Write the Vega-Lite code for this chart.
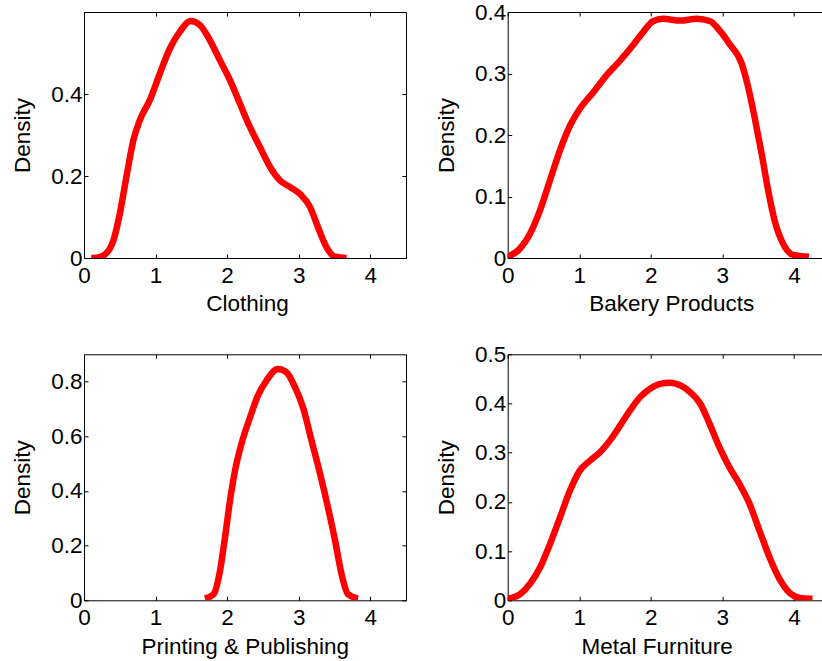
{
  "$schema": "https://vega.github.io/schema/vega-lite/v6.json",
  "background": "white",
  "padding": {"left": 11, "top": 0, "right": 0, "bottom": 0},
  "config": {
    "view": {"stroke": "black", "strokeWidth": 1},
    "font": "Liberation Sans",
    "axis": {
      "domain": false,
      "grid": false,
      "tickColor": "black",
      "tickSize": -4,
      "tickWidth": 1,
      "labelFont": "Liberation Sans",
      "labelFontSize": 22.5,
      "labelColor": "black",
      "labelFlush": false,
      "labelOverlap": false,
      "titleFont": "Liberation Sans",
      "titleFontSize": 22.5,
      "titleFontWeight": "normal",
      "titleColor": "black",
      "format": "~g"
    },
    "axisX": {"labelPadding": 10.4, "titlePadding": 6},
    "axisY": {"labelPadding": 6, "titlePadding": 16}
  },
  "datasets": {
    "clothing": [
      {"x": 0.10, "y": 0}, {"x": 0.14, "y": 0.0}, {"x": 0.27, "y": 0.006}, {"x": 0.41, "y": 0.042},
      {"x": 0.50, "y": 0.108}, {"x": 0.60, "y": 0.205}, {"x": 0.69, "y": 0.287}, {"x": 0.78, "y": 0.336},
      {"x": 0.92, "y": 0.385}, {"x": 1.06, "y": 0.45}, {"x": 1.20, "y": 0.511}, {"x": 1.34, "y": 0.552},
      {"x": 1.49, "y": 0.578}, {"x": 1.62, "y": 0.568}, {"x": 1.76, "y": 0.531}, {"x": 1.90, "y": 0.482},
      {"x": 2.04, "y": 0.434}, {"x": 2.18, "y": 0.376}, {"x": 2.32, "y": 0.319}, {"x": 2.46, "y": 0.27},
      {"x": 2.60, "y": 0.222}, {"x": 2.74, "y": 0.189}, {"x": 2.88, "y": 0.173}, {"x": 3.02, "y": 0.156},
      {"x": 3.16, "y": 0.124}, {"x": 3.27, "y": 0.075}, {"x": 3.39, "y": 0.026}, {"x": 3.51, "y": 0.003},
      {"x": 3.67, "y": 0.0}
    ],
    "bakery": [
      {"x": 0.0, "y": 0.002}, {"x": 0.17, "y": 0.015}, {"x": 0.31, "y": 0.039}, {"x": 0.45, "y": 0.077},
      {"x": 0.59, "y": 0.126}, {"x": 0.73, "y": 0.175}, {"x": 0.87, "y": 0.215}, {"x": 1.01, "y": 0.243},
      {"x": 1.20, "y": 0.27}, {"x": 1.38, "y": 0.297}, {"x": 1.57, "y": 0.321}, {"x": 1.75, "y": 0.346},
      {"x": 1.89, "y": 0.367}, {"x": 2.03, "y": 0.385}, {"x": 2.17, "y": 0.389}, {"x": 2.41, "y": 0.386},
      {"x": 2.64, "y": 0.389}, {"x": 2.83, "y": 0.385}, {"x": 2.96, "y": 0.370}, {"x": 3.10, "y": 0.348},
      {"x": 3.27, "y": 0.316}, {"x": 3.36, "y": 0.278}, {"x": 3.45, "y": 0.229}, {"x": 3.55, "y": 0.169},
      {"x": 3.64, "y": 0.110}, {"x": 3.73, "y": 0.061}, {"x": 3.85, "y": 0.023}, {"x": 3.99, "y": 0.005},
      {"x": 4.21, "y": 0.002}
    ],
    "printing": [
      {"x": 1.69, "y": 0.006}, {"x": 1.81, "y": 0.022}, {"x": 1.90, "y": 0.107}, {"x": 1.97, "y": 0.229},
      {"x": 2.04, "y": 0.364}, {"x": 2.11, "y": 0.474}, {"x": 2.20, "y": 0.572}, {"x": 2.32, "y": 0.669},
      {"x": 2.43, "y": 0.749}, {"x": 2.55, "y": 0.804}, {"x": 2.71, "y": 0.846}, {"x": 2.83, "y": 0.834},
      {"x": 2.95, "y": 0.779}, {"x": 3.06, "y": 0.706}, {"x": 3.18, "y": 0.584}, {"x": 3.30, "y": 0.462},
      {"x": 3.41, "y": 0.339}, {"x": 3.51, "y": 0.217}, {"x": 3.60, "y": 0.095}, {"x": 3.69, "y": 0.022},
      {"x": 3.83, "y": 0.006}
    ],
    "metal": [
      {"x": 0.0, "y": 0.003}, {"x": 0.17, "y": 0.012}, {"x": 0.31, "y": 0.033}, {"x": 0.45, "y": 0.066},
      {"x": 0.59, "y": 0.114}, {"x": 0.73, "y": 0.168}, {"x": 0.87, "y": 0.223}, {"x": 1.01, "y": 0.264},
      {"x": 1.15, "y": 0.284}, {"x": 1.29, "y": 0.301}, {"x": 1.43, "y": 0.325}, {"x": 1.57, "y": 0.355},
      {"x": 1.71, "y": 0.386}, {"x": 1.85, "y": 0.413}, {"x": 1.99, "y": 0.43}, {"x": 2.13, "y": 0.44},
      {"x": 2.27, "y": 0.442}, {"x": 2.41, "y": 0.437}, {"x": 2.55, "y": 0.423}, {"x": 2.69, "y": 0.40},
      {"x": 2.82, "y": 0.359}, {"x": 2.96, "y": 0.311}, {"x": 3.10, "y": 0.27}, {"x": 3.24, "y": 0.236},
      {"x": 3.38, "y": 0.196}, {"x": 3.52, "y": 0.141}, {"x": 3.66, "y": 0.087}, {"x": 3.80, "y": 0.043},
      {"x": 3.94, "y": 0.015}, {"x": 4.08, "y": 0.005}, {"x": 4.26, "y": 0.003}
    ]
  },
  "columns": 2,
  "bounds": "flush",
  "spacing": {"row": 96.3, "column": 101.7},
  "concat": [
    {
      "width": 322, "height": 246,
      "data": {"name": "clothing"},
      "layer": [
        {
          "mark": {"type": "line", "color": "#ff0000", "strokeWidth": 6.5, "clip": true, "interpolate": "monotone", "strokeJoin": "round"},
          "encoding": {
            "x": {"field": "x", "type": "quantitative", "scale": {"domain": [0, 4.5], "nice": false, "zero": false},
                  "axis": {"orient": "bottom", "title": "Clothing", "values": [0, 1, 2, 3, 4], "titleX": 163}},
            "y": {"field": "y", "type": "quantitative", "scale": {"domain": [0, 0.6], "nice": false},
                  "axis": {"orient": "left", "title": "Density", "values": [0, 0.2, 0.4]}}
          }
        },
        {
          "mark": {"type": "point", "opacity": 0},
          "encoding": {
            "x": {"field": "x", "type": "quantitative", "axis": {"orient": "top", "labels": false, "title": null, "values": [0, 1, 2, 3, 4]}},
            "y": {"field": "y", "type": "quantitative", "axis": {"orient": "right", "labels": false, "title": null, "values": [0, 0.2, 0.4]}}
          }
        }
      ],
      "resolve": {"axis": {"x": "independent", "y": "independent"}}
    },
    {
      "width": 322, "height": 246,
      "data": {"name": "bakery"},
      "layer": [
        {
          "mark": {"type": "line", "color": "#ff0000", "strokeWidth": 6.5, "clip": true, "interpolate": "monotone", "strokeJoin": "round"},
          "encoding": {
            "x": {"field": "x", "type": "quantitative", "scale": {"domain": [0, 4.5], "nice": false, "zero": false},
                  "axis": {"orient": "bottom", "title": "Bakery Products", "values": [0, 1, 2, 3, 4], "titleX": 163.6}},
            "y": {"field": "y", "type": "quantitative", "scale": {"domain": [0, 0.4], "nice": false},
                  "axis": {"orient": "left", "title": "Density", "values": [0, 0.1, 0.2, 0.3, 0.4]}}
          }
        },
        {
          "mark": {"type": "point", "opacity": 0},
          "encoding": {
            "x": {"field": "x", "type": "quantitative", "axis": {"orient": "top", "labels": false, "title": null, "values": [0, 1, 2, 3, 4]}},
            "y": {"field": "y", "type": "quantitative", "axis": {"orient": "right", "labels": false, "title": null, "values": [0, 0.1, 0.2, 0.3, 0.4]}}
          }
        }
      ],
      "resolve": {"axis": {"x": "independent", "y": "independent"}}
    },
    {
      "width": 322, "height": 246,
      "data": {"name": "printing"},
      "layer": [
        {
          "mark": {"type": "line", "color": "#ff0000", "strokeWidth": 6.5, "clip": true, "interpolate": "monotone", "strokeJoin": "round"},
          "encoding": {
            "x": {"field": "x", "type": "quantitative", "scale": {"domain": [0, 4.5], "nice": false, "zero": false},
                  "axis": {"orient": "bottom", "title": "Printing & Publishing", "values": [0, 1, 2, 3, 4], "titleX": 160.7}},
            "y": {"field": "y", "type": "quantitative", "scale": {"domain": [0, 0.9], "nice": false},
                  "axis": {"orient": "left", "title": "Density", "values": [0, 0.2, 0.4, 0.6, 0.8]}}
          }
        },
        {
          "mark": {"type": "point", "opacity": 0},
          "encoding": {
            "x": {"field": "x", "type": "quantitative", "axis": {"orient": "top", "labels": false, "title": null, "values": [0, 1, 2, 3, 4]}},
            "y": {"field": "y", "type": "quantitative", "axis": {"orient": "right", "labels": false, "title": null, "values": [0, 0.2, 0.4, 0.6, 0.8]}}
          }
        }
      ],
      "resolve": {"axis": {"x": "independent", "y": "independent"}}
    },
    {
      "width": 322, "height": 246,
      "data": {"name": "metal"},
      "layer": [
        {
          "mark": {"type": "line", "color": "#ff0000", "strokeWidth": 6.5, "clip": true, "interpolate": "monotone", "strokeJoin": "round"},
          "encoding": {
            "x": {"field": "x", "type": "quantitative", "scale": {"domain": [0, 4.5], "nice": false, "zero": false},
                  "axis": {"orient": "bottom", "title": "Metal Furniture", "values": [0, 1, 2, 3, 4], "titleX": 149}},
            "y": {"field": "y", "type": "quantitative", "scale": {"domain": [0, 0.5], "nice": false},
                  "axis": {"orient": "left", "title": "Density", "values": [0, 0.1, 0.2, 0.3, 0.4, 0.5]}}
          }
        },
        {
          "mark": {"type": "point", "opacity": 0},
          "encoding": {
            "x": {"field": "x", "type": "quantitative", "axis": {"orient": "top", "labels": false, "title": null, "values": [0, 1, 2, 3, 4]}},
            "y": {"field": "y", "type": "quantitative", "axis": {"orient": "right", "labels": false, "title": null, "values": [0, 0.1, 0.2, 0.3, 0.4, 0.5]}}
          }
        }
      ],
      "resolve": {"axis": {"x": "independent", "y": "independent"}}
    }
  ]
}
